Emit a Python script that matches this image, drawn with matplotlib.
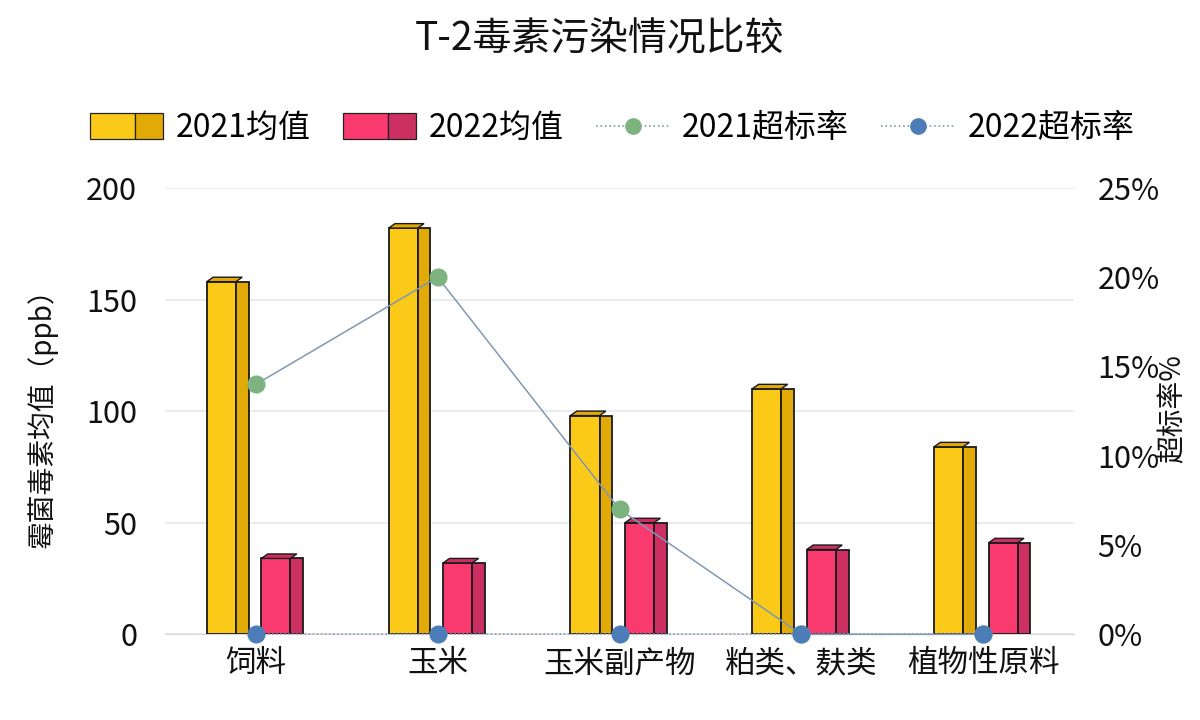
import numpy as np
import matplotlib.pyplot as plt
from matplotlib.patches import Rectangle, Polygon
from matplotlib.lines import Line2D
from matplotlib.legend_handler import HandlerBase
from matplotlib.ticker import FuncFormatter

plt.rcParams['font.family'] = ['Noto Sans CJK SC', 'DejaVu Sans']

categories = ['饲料', '玉米', '玉米副产物', '粕类、麸类', '植物性原料']
mean_2021 = [158, 182, 98, 110, 84]
mean_2022 = [34, 32, 50, 38, 41]
rate_2021 = [14, 20, 7, 0, 0]
rate_2022 = [0, 0, 0, 0, 0]

yellow, yellow_side = '#FBC918', '#E2AA06'
pink, pink_side = '#F83A6E', '#CC2F62'
green, blue = '#7DB37F', '#4D7DB8'
fs = 22


class SplitBoxHandler(HandlerBase):
    # legend box drawn as front face + darker side face
    def __init__(self, c1, c2):
        super().__init__()
        self.c1, self.c2 = c1, c2

    def create_artists(self, legend, orig_handle, xd, yd, w, h, fontsize, trans):
        a = Rectangle((-xd, -yd - h * 0.1), w * 0.62, h * 1.2, fc=self.c1, ec='#222222', lw=0.9, transform=trans)
        b = Rectangle((-xd + w * 0.62, -yd - h * 0.1), w * 0.38, h * 1.2, fc=self.c2, ec='#222222', lw=0.9, transform=trans)
        return [a, b]


def bar3d(ax, xs, vals, front, side, w=0.16, sw=0.07, depth=2.0):
    ax.bar(xs, vals, width=w, color=front, edgecolor='#1a1a1a', linewidth=1.3, align='edge', zorder=3)
    ax.bar(xs + w, vals, width=sw, color=side, edgecolor='#1a1a1a', linewidth=1.3, align='edge', zorder=3)
    for x, v in zip(xs, vals):
        top = Polygon([(x, v), (x + w, v), (x + w + sw * 0.5, v + depth), (x + sw * 0.5, v + depth)],
                      closed=True, fc=side, ec='#1a1a1a', lw=1.0, zorder=3)
        ax.add_patch(top)


fig = plt.figure(figsize=(12, 7.2), dpi=100)
ax = fig.add_axes([0.1375, 0.119, 0.7575, 0.62])
x = np.arange(len(categories))

bar3d(ax, x - 0.27, mean_2021, yellow, yellow_side)
bar3d(ax, x + 0.03, mean_2022, pink, pink_side)

ax.set_xlim(-0.5, len(categories) - 0.5)
ax.set_ylim(0, 200)
ax.set_yticks([0, 50, 100, 150, 200])
ax.grid(axis='y', color='#E6E8EC', lw=1.2, zorder=0)
for s in ['top', 'right', 'left']:
    ax.spines[s].set_visible(False)
ax.spines['bottom'].set_color('#D5D8DD')
ax.tick_params(axis='both', length=0, labelsize=fs, colors='#111111')
ax.tick_params(axis='x', pad=10)
ax.tick_params(axis='y', pad=20)
ax.set_xticks(x)
ax.set_xticklabels(categories, fontsize=fs)
ax.set_ylabel('霉菌毒素均值（ppb）', fontsize=20, color='#111111')
ax.yaxis.set_label_coords(-0.118, 0.5)

ax2 = ax.twinx()
ax2.set_ylim(0, 25)
ax2.set_yticks([0, 5, 10, 15, 20, 25])
ax2.yaxis.set_major_formatter(FuncFormatter(lambda v, p: f'{v:.0f}%'))
for s in ['top', 'right', 'left', 'bottom']:
    ax2.spines[s].set_visible(False)
ax2.tick_params(axis='y', length=0, labelsize=fs, colors='#111111', pad=17)
ax2.set_ylabel('超标率%', fontsize=20, color='#111111')
ax2.yaxis.set_label_coords(1.092, 0.505)

ax2.plot(x, rate_2021, color='#7E98B5', lw=1.1, marker='o', ms=12,
         mfc=green, mec=green, zorder=5, clip_on=False)
ax2.plot(x, rate_2022, color='#7E98B5', lw=1.1, ls=':', marker='o', ms=12,
         mfc=blue, mec=blue, zorder=6, clip_on=False)

fig.suptitle('T-2毒素污染情况比较', y=0.975, fontsize=28, color='#111111')

h1 = Rectangle((0, 0), 1, 1)
h2 = Rectangle((0, 0), 1, 1)
h3 = Line2D([], [], color='#7E98B5', ls=':', lw=1.2, marker='o', ms=11, mfc=green, mec=green)
h4 = Line2D([], [], color='#7E98B5', ls=':', lw=1.2, marker='o', ms=11, mfc=blue, mec=blue)
fig.legend([h1, h2, h3, h4], ['2021均值', '2022均值', '2021超标率', '2022超标率'],
           handler_map={h1: SplitBoxHandler(yellow, yellow_side), h2: SplitBoxHandler(pink, pink_side)},
           loc='center', bbox_to_anchor=(0.51, 0.822), ncol=4, frameon=False, fontsize=fs + 1,
           handlelength=2.3, handletextpad=0.4, columnspacing=1.0)

fig.savefig('out.png', dpi=100)
